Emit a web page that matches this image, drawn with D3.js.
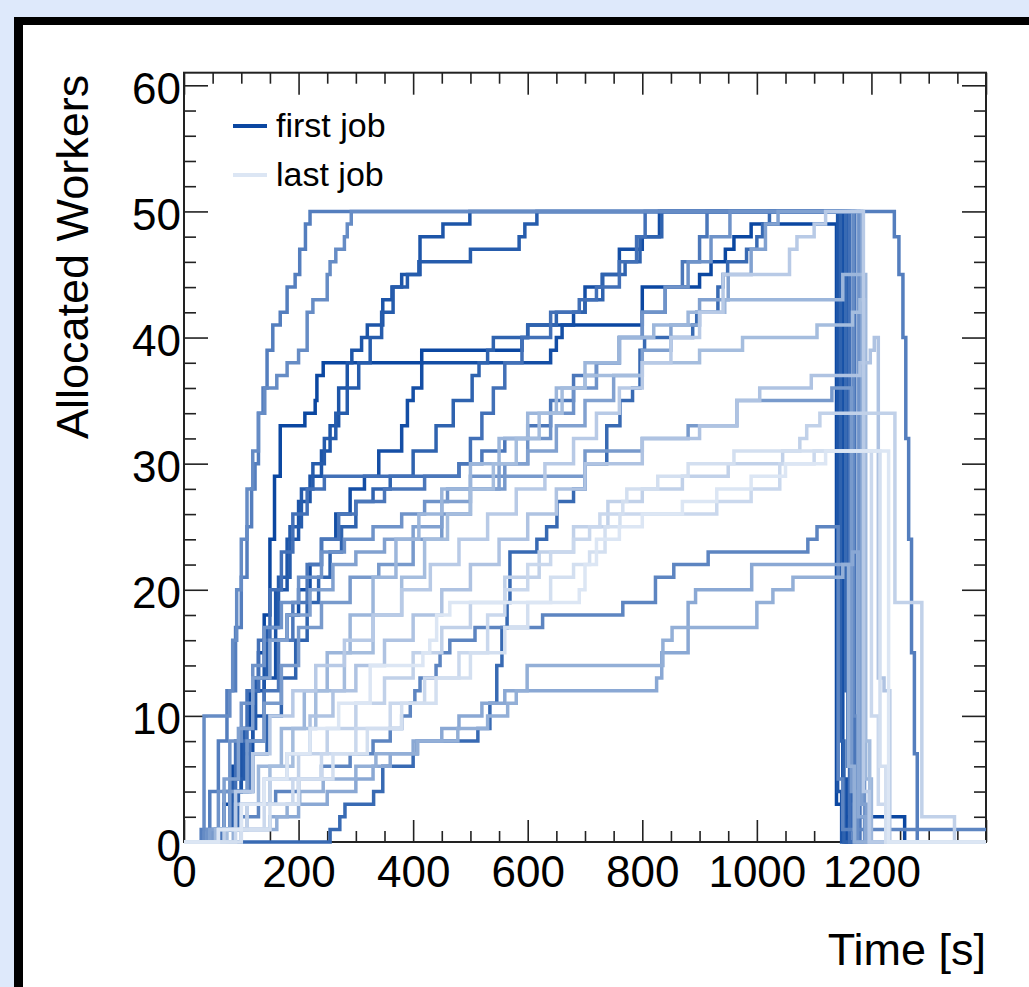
<!DOCTYPE html>
<html>
<head>
<meta charset="utf-8">
<script src="https://cdn.jsdelivr.net/npm/d3@7"></script>
<style>
html, body { margin: 0; padding: 0; background: #dee9fb; overflow: hidden; }
svg { display: block; }
text { font-family: "Liberation Sans", Arial, Helvetica, sans-serif; fill: #000; }
</style>
</head>
<body>
<div id="chart"></div>
<script>
// allocated workers per job, [time s, workers] step points (first job -> last job)
const job0 = [[0,0],[55,1],[70,3],[85,6],[100,9],[115,12],[130,15],[140,18],[150,24],[158,29],[168,33],[211,34],[229,35],[232,37],[243,38],[415,39],[590,40],[600,41],[800,44],[900,45],[920,46],[945,47],[960,48],[990,49],[1139,3],[1150,2],[1258,0],[1400,0]]
const job1 = [[0,0],[60,1],[80,4],[100,7],[120,10],[140,13],[160,16],[180,18],[200,20],[220,22],[240,24],[265,26],[290,28],[315,29],[340,31],[380,33],[390,35],[400,36],[415,38],[640,39],[650,40],[660,41],[680,42],[700,44],[730,45],[760,47],[800,48],[830,50],[1150,5],[1156,0],[1400,0]]
const job2 = [[0,0],[60,1],[80,4],[100,8],[120,12],[140,16],[160,20],[180,24],[200,27],[220,29],[240,31],[255,33],[270,36],[285,38],[293,39],[310,40],[320,41],[347,43],[363,44],[380,45],[412,48],[452,49],[499,50],[1141,4],[1148,0],[1400,0]]
const job3 = [[0,0],[65,1],[85,5],[105,9],[125,13],[145,17],[165,21],[185,25],[205,28],[225,30],[245,32],[265,34],[285,36],[305,38],[325,40],[345,42],[365,44],[390,45],[410,46],[500,47],[585,48],[595,49],[616,50],[1159,6],[1165,1],[1175,0],[1400,0]]
const job4 = [[0,0],[70,1],[95,4],[120,7],[145,10],[170,13],[195,16],[215,19],[235,21],[255,23],[275,25],[300,27],[330,28],[360,29],[400,31],[440,33],[470,35],[503,37],[515,38],[530,39],[540,40],[600,41],[650,42],[700,43],[731,45],[770,46],[796,48],[834,50],[1146,8],[1152,0],[1400,0]]
const job5 = [[0,0],[255,1],[272,2],[281,3],[331,4],[347,6],[400,7],[407,8],[513,9],[534,11],[546,14],[555,17],[564,19],[569,23],[616,24],[633,25],[651,27],[680,28],[700,30],[738,33],[761,35],[783,36],[796,39],[804,40],[888,41],[895,42],[932,44],[941,45],[949,46],[982,47],[1000,48],[1010,49],[1022,50],[1155,12],[1162,3],[1168,0],[1400,0]]
const job6 = [[0,0],[50,1],[70,4],[90,8],[110,12],[130,16],[150,20],[170,23],[190,26],[215,28],[245,29],[480,30],[500,32],[520,34],[540,36],[560,38],[590,40],[640,42],[690,43],[720,44],[760,46],[790,48],[805,50],[1162,0],[1400,0]]
const job7 = [[0,0],[65,1],[90,4],[115,8],[140,12],[165,16],[190,19],[215,22],[240,24],[270,26],[300,27],[350,28],[420,29],[480,30],[520,31],[560,32],[600,33],[640,35],[680,37],[720,38],[760,40],[800,42],[840,44],[870,46],[900,48],[913,50],[1171,5],[1180,0],[1400,0]]
const job8 = [[0,0],[30,1],[45,4],[60,8],[75,12],[90,17],[100,21],[110,25],[118,28],[124,30],[130,34],[138,36],[145,39],[155,41],[168,42],[180,44],[194,45],[202,47],[212,49],[220,50],[1240,48],[1248,45],[1255,40],[1260,32],[1265,24],[1270,15],[1275,7],[1280,0],[1400,0]]
const job9 = [[0,0],[70,1],[100,2],[130,3],[160,4],[200,5],[240,6],[290,7],[330,8],[360,9],[380,10],[395,11],[403,12],[412,13],[440,14],[447,15],[464,16],[508,17],[626,18],[766,19],[823,21],[855,22],[915,23],[1089,24],[1105,25],[1142,5],[1150,1],[1400,1]]
const job10 = [[0,0],[35,10],[80,12],[85,16],[92,20],[100,24],[110,28],[120,31],[130,34],[141,36],[162,37],[180,38],[200,39],[215,42],[225,43],[250,45],[255,46],[265,47],[280,48],[285,49],[292,50],[1168,10],[1176,0],[1400,0]]
const job11 = [[0,0],[40,1],[60,4],[80,8],[100,11],[120,14],[140,17],[170,19],[200,21],[240,23],[280,24],[330,25],[380,26],[420,27],[460,28],[500,29],[560,30],[600,32],[640,34],[680,36],[720,38],[760,40],[800,42],[840,44],[880,46],[920,48],[953,50],[1178,10],[1188,0],[1400,0]]
const job12 = [[0,0],[50,1],[80,4],[110,8],[140,11],[170,14],[200,17],[240,19],[290,21],[340,22],[400,24],[450,26],[500,28],[560,29],[620,29],[700,31],[800,32],[880,33],[965,35],[1131,36],[1165,4],[1172,0],[1400,0]]
const job13 = [[0,0],[45,1],[70,5],[95,9],[120,13],[150,16],[180,18],[220,20],[260,22],[300,23],[350,24],[400,25],[450,27],[500,28],[550,30],[600,31],[650,33],[700,35],[750,37],[800,39],[850,41],[900,43],[950,45],[990,47],[1015,49],[1037,50],[1183,3],[1192,0],[1400,0]]
const job14 = [[0,0],[100,1],[150,2],[200,3],[250,4],[300,5],[330,6],[360,7],[400,8],[450,9],[480,10],[520,11],[560,12],[825,13],[834,15],[880,19],[893,20],[991,22],[1167,23],[1177,2],[1190,0],[1400,0]]
const job15 = [[0,0],[86,1],[162,2],[180,3],[202,4],[243,5],[300,6],[335,7],[408,8],[478,9],[530,10],[565,11],[580,12],[599,14],[836,16],[852,17],[1000,19],[1028,20],[1063,21],[1150,22],[1160,6],[1170,0],[1400,0]]
const job16 = [[0,0],[55,1],[90,3],[130,6],[170,9],[210,12],[250,15],[290,18],[330,21],[370,24],[410,26],[450,28],[500,30],[550,32],[600,34],[650,36],[700,38],[760,40],[820,41],[880,42],[944,43],[1150,45],[1190,5],[1200,0],[1400,0]]
const job17 = [[0,0],[75,1],[110,3],[150,6],[190,9],[230,12],[280,15],[330,18],[380,21],[420,24],[460,26],[500,28],[540,30],[580,32],[620,34],[660,36],[700,37],[800,38],[900,39],[975,40],[1105,41],[1167,42],[1180,43],[1188,8],[1197,0],[1400,0]]
const job18 = [[0,0],[60,1],[100,3],[140,5],[180,7],[220,10],[260,12],[300,14],[350,16],[400,18],[450,20],[500,22],[550,24],[600,26],[650,28],[700,30],[800,32],[900,33],[965,35],[1005,36],[1095,37],[1180,38],[1198,39],[1205,40],[1212,13],[1222,12],[1232,0],[1400,0]]
const job19 = [[0,0],[60,1],[90,4],[120,7],[150,10],[190,12],[230,14],[280,16],[330,18],[380,20],[430,22],[480,24],[530,26],[580,28],[630,30],[680,32],[720,34],[760,36],[800,38],[850,40],[900,42],[941,45],[1057,47],[1070,48],[1100,49],[1120,50],[1186,4],[1196,0],[1400,0]]
const job20 = [[0,0],[70,1],[110,3],[150,5],[200,7],[250,9],[300,11],[350,13],[400,15],[450,17],[500,19],[560,21],[620,23],[680,25],[740,27],[800,28],[870,29],[950,30],[1045,31],[1075,32],[1087,33],[1110,34],[1241,19],[1288,2],[1345,0],[1400,0]]
const job21 = [[0,0],[90,1],[140,3],[190,5],[240,7],[300,9],[360,11],[420,13],[480,15],[530,18],[560,20],[600,22],[640,23],[680,24],[708,25],[726,26],[930,27],[990,28],[1040,30],[1100,31],[1200,10],[1212,3],[1225,0],[1400,0]]
const job22 = [[0,0],[100,1],[150,3],[200,5],[260,7],[320,9],[380,11],[440,13],[500,15],[560,17],[600,19],[640,21],[680,22],[708,23],[735,25],[761,26],[766,27],[773,28],[827,29],[880,30],[960,31],[1215,6],[1225,0],[1400,0]]
const job23 = [[0,0],[60,1],[100,3],[140,5],[180,7],[220,9],[270,11],[325,14],[417,15],[429,16],[441,18],[464,19],[690,20],[700,22],[720,24],[760,25],[800,26],[870,27],[930,28],[990,29],[1050,30],[1120,31],[1230,0],[1400,0]]

const jobs = [job0, job1, job2, job3, job4, job5, job6, job7, job8, job9, job10, job11,
  job12, job13, job14, job15, job16, job17, job18, job19, job20, job21, job22, job23]

const xMajor = [0, 200, 400, 600, 800, 1000, 1200, 1400]
const xLabels = [0, 200, 400, 600, 800, 1000, 1200]
const yMajor = [0, 10, 20, 30, 40, 50, 60]
const legendNames = ['first job', 'last job']

const W = 1029, H = 987
const plot = {left: 184, right: 986, top: 72.7, bottom: 842}

const svg = d3.select('#chart').append('svg')
  .attr('width', W)
  .attr('height', H)

// page frame
svg.append('rect').attr('x', 0).attr('y', 0).attr('width', W).attr('height', H).attr('fill', '#dee9fb')
svg.append('rect').attr('x', 14).attr('y', 17).attr('width', 1100).attr('height', 1100).attr('fill', '#000')
svg.append('rect').attr('x', 23).attr('y', 25).attr('width', 1100).attr('height', 1100).attr('fill', '#fff')

const x = d3.scaleLinear().domain([0, 1400]).range([plot.left, plot.right])
const y = d3.scaleLinear().domain([0, 61]).range([plot.bottom, plot.top])

const color = d3.scaleLinear().domain([0, jobs.length - 1])
  .range(['#0b47a1', '#dce6f4'])
  .interpolate(d3.interpolateRgb)

const xMinor = d3.range(0, 1401, 50).filter(v => v % 200 !== 0)
const yMinor = d3.range(0, 61, 2).filter(v => v % 10 !== 0)

function styleAxis(g) {
  g.select('.domain').remove()
  g.selectAll('.tick line').attr('stroke', '#222').attr('stroke-width', 1.6)
}

// ticks (inward, on all four sides)
svg.append('g').attr('transform', `translate(0,${plot.bottom})`)
  .call(d3.axisBottom(x).tickValues(xMajor).tickSize(-22).tickPadding(14)
    .tickFormat(d => xLabels.includes(d) ? d : ''))
  .call(styleAxis)
  .call(g => g.selectAll('text').attr('font-size', 44).attr('font-family', '"Liberation Sans", Arial, sans-serif'))
svg.append('g').attr('transform', `translate(0,${plot.bottom})`)
  .call(d3.axisBottom(x).tickValues(xMinor).tickSize(-11).tickFormat(''))
  .call(styleAxis)
svg.append('g').attr('transform', `translate(0,${plot.top})`)
  .call(d3.axisTop(x).tickValues(xMajor).tickSize(-22).tickFormat(''))
  .call(styleAxis)
svg.append('g').attr('transform', `translate(0,${plot.top})`)
  .call(d3.axisTop(x).tickValues(xMinor).tickSize(-11).tickFormat(''))
  .call(styleAxis)

svg.append('g').attr('transform', `translate(${plot.left},0)`)
  .call(d3.axisLeft(y).tickValues(yMajor).tickSize(-24).tickPadding(3))
  .call(styleAxis)
  .call(g => g.selectAll('text').attr('font-size', 44).attr('dy', '0.41em')
    .attr('font-family', '"Liberation Sans", Arial, sans-serif'))
svg.append('g').attr('transform', `translate(${plot.left},0)`)
  .call(d3.axisLeft(y).tickValues(yMinor).tickSize(-12).tickFormat(''))
  .call(styleAxis)
svg.append('g').attr('transform', `translate(${plot.right},0)`)
  .call(d3.axisRight(y).tickValues(yMajor).tickSize(-24).tickFormat(''))
  .call(styleAxis)
svg.append('g').attr('transform', `translate(${plot.right},0)`)
  .call(d3.axisRight(y).tickValues(yMinor).tickSize(-12).tickFormat(''))
  .call(styleAxis)

// plot frame
svg.append('rect')
  .attr('x', plot.left).attr('y', plot.top)
  .attr('width', plot.right - plot.left).attr('height', plot.bottom - plot.top)
  .attr('fill', 'none').attr('stroke', '#222').attr('stroke-width', 2)

svg.append('clipPath').attr('id', 'clip').append('rect')
  .attr('x', plot.left).attr('y', plot.top)
  .attr('width', plot.right - plot.left).attr('height', plot.bottom - plot.top + 3)

const line = d3.line()
  .x(d => x(d[0]))
  .y(d => y(d[1]))
  .curve(d3.curveStepAfter)

svg.append('g').attr('clip-path', 'url(#clip)')
  .selectAll('path').data(jobs).enter().append('path')
  .attr('d', line)
  .attr('fill', 'none')
  .attr('stroke', (d, i) => color(i))
  .attr('stroke-width', 3.5)

// legend
const legend = svg.append('g')
legendNames.forEach((name, i) => {
  const ly = 126 + i * 49
  legend.append('line')
    .attr('x1', 233).attr('x2', 267).attr('y1', ly).attr('y2', ly)
    .attr('stroke', i === 0 ? color(0) : color(jobs.length - 1))
    .attr('stroke-width', 3.8)
  legend.append('text')
    .attr('x', 276).attr('y', ly + 11)
    .attr('font-size', 34)
    .text(name)
})

// axis titles
svg.append('text')
  .attr('x', plot.right).attr('y', 965)
  .attr('text-anchor', 'end')
  .attr('font-size', 45)
  .text('Time [s]')
svg.append('text')
  .attr('transform', `translate(88,${plot.top + 2}) rotate(-90)`)
  .attr('text-anchor', 'end')
  .attr('font-size', 45)
  .text('Allocated Workers')
</script>
</body>
</html>
